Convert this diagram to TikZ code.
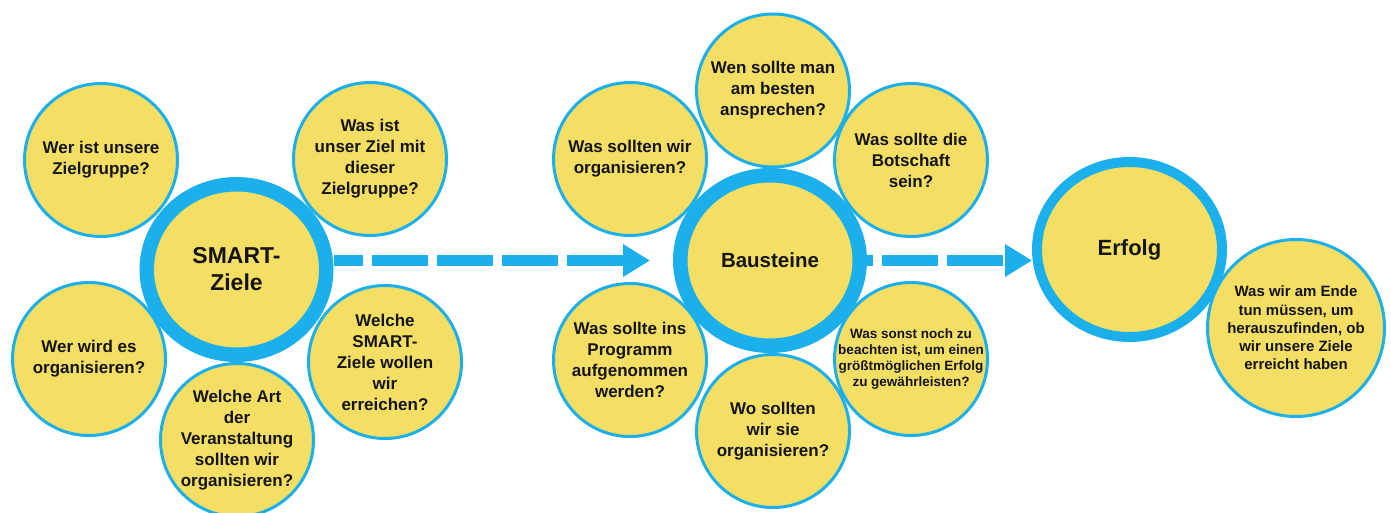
\documentclass[tikz,border=0pt]{standalone}
\usepackage{fontspec}
\setmainfont{Liberation Sans}
\usetikzlibrary{arrows.meta,shapes.geometric}
\definecolor{cblue}{RGB}{27,175,236}
\definecolor{cyel}{RGB}{244,223,100}
\definecolor{ctext}{RGB}{20,20,20}
\begin{document}
\begin{tikzpicture}[x=1pt,y=-1pt,
  q/.style={circle, draw=cblue, fill=cyel, line width=3pt, minimum size=153pt,
    inner sep=-25pt, align=center, text=ctext, font=\bfseries\fontsize{17}{21}\selectfont},
  hub/.style={ellipse, draw=cblue, fill=cyel, line width=14.5pt, minimum width=179.5pt,
    minimum height=170.5pt, inner sep=0pt, align=center, text=ctext},
  flow/.style={draw=cblue, fill=cblue, line width=10.5pt, dash pattern=on 56pt off 9pt,
    -{Triangle[length=27pt,width=31pt]}}]
\useasboundingbox (0,0) rectangle (1391,513);

% SMART-Ziele group
\node[q] (q1) at (101,160) {Wer ist unsere\\Zielgruppe?};
\node[q] (q2) at (370,159) {Was ist\\unser Ziel mit\\dieser\\Zielgruppe?};
\node[q] (q3) at (89,359) {Wer wird es\\organisieren?};
\node[q] (q4) at (237,440) {Welche Art\\der\\Veranstaltung\\sollten wir\\organisieren?};
\node[q] (q5) at (385,362) {Welche\\SMART-\\Ziele wollen\\wir\\erreichen?};
\node[hub, font=\bfseries\fontsize{23}{27}\selectfont] (smart) at (236.5,269.5) {SMART-\\Ziele};

% Bausteine group
\node[q] (b1) at (773,90.5) {Wen sollte man\\am besten\\ansprechen?};
\node[q] (b2) at (630,159) {Was sollten wir\\organisieren?};
\node[q] (b3) at (911,160) {Was sollte die\\Botschaft\\sein?};
\node[q] (b4) at (630,360) {Was sollte ins\\Programm\\aufgenommen\\werden?};
\node[q] (b5) at (773,431) {Wo sollten\\wir sie\\organisieren?};
\node[q, font=\bfseries\fontsize{13.5}{16}\selectfont] (b6) at (911,359)
  {Was sonst noch zu\\beachten ist, um einen\\größtmöglichen Erfolg\\zu gewährleisten?};
\node[hub, font=\bfseries\fontsize{20.5}{25}\selectfont] (baus) at (770,260.5) {Bausteine};

% Erfolg
\node[hub, line width=10pt, minimum width=185pt, minimum height=175pt,
  font=\bfseries\fontsize{22}{26}\selectfont] (erfolg) at (1129.5,249.5) {Erfolg};
\node[q, minimum size=177pt, font=\bfseries\fontsize{15}{18.3}\selectfont] (e1) at (1296,328)
  {Was wir am Ende\\tun müssen, um\\herauszufinden, ob\\wir unsere Ziele\\erreicht haben};

% arrows
\draw[flow, dash phase=26.5pt] (smart.east |- baus.west) -- ([xshift=-23pt]baus.west);
\draw[flow, dash phase=50pt] (baus.east) -- (baus.east -| erfolg.west);
\end{tikzpicture}
\end{document}
